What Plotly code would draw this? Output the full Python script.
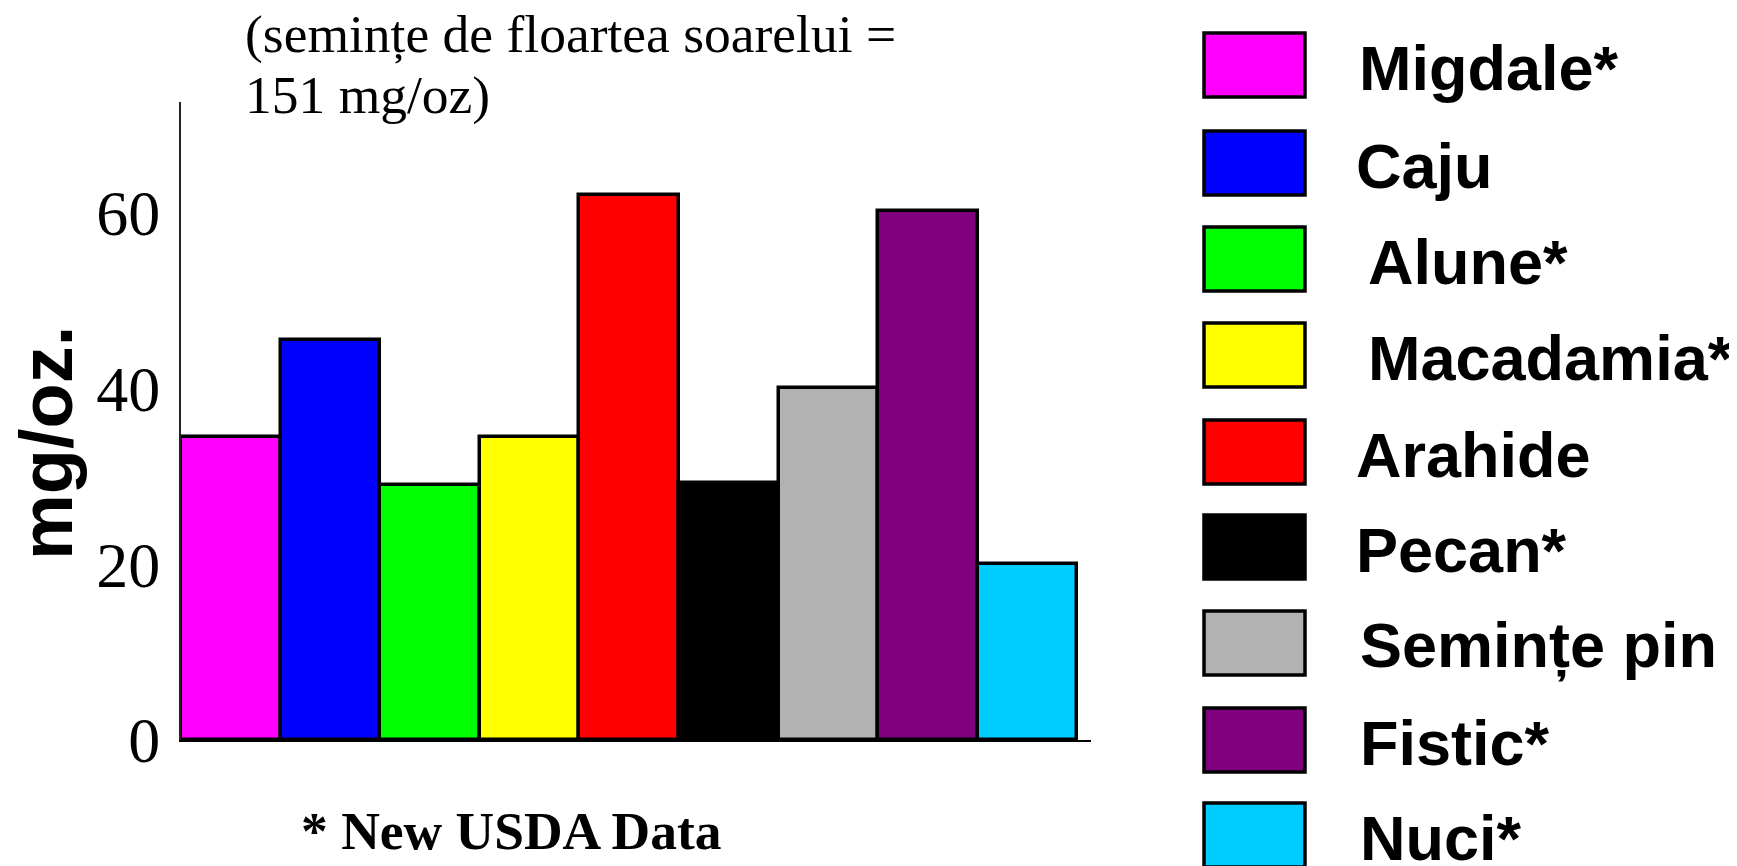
import plotly.graph_objects as go

# ---- data ----
categories = ["Migdale*", "Caju", "Alune*", "Macadamia*", "Arahide",
              "Pecan*", "Semințe pin", "Fistic*", "Nuci*"]
values = [34.5, 45.5, 29.0, 34.5, 62.0, 29.2, 40.0, 60.2, 20.0]
colors = ["#FF00FF", "#0000FF", "#00FF00", "#FFFF00", "#FF0000",
          "#000000", "#B2B2B2", "#800080", "#00CCFF"]
y_ticks = [0, 20, 40, 60]
note_top = ["(semințe de floartea soarelui =", "151 mg/oz)"]
note_bottom = "* New USDA Data"
y_title = "mg/oz."

W, H = 1737, 866
OFF = 8  # page body margin
# plot area in pixels (page coordinates)
L, R, T, B = 181, 1091, 102, 740


def px(x):
    return (x - OFF) / W


def py(y):
    return 1 - (y - OFF) / H


fig = go.Figure()
fig.add_trace(go.Bar(
    x=categories, y=values, width=1.0,
    marker=dict(color=colors, line=dict(color="black", width=3.5)),
    showlegend=False, hoverinfo="x+y",
))

fig.update_layout(
    width=W, height=H,
    margin=dict(l=0, r=0, t=0, b=0, autoexpand=False),
    paper_bgcolor="white", plot_bgcolor="white",
    bargap=0,
    xaxis=dict(domain=[px(L), px(R)], range=[-0.5, 8.637],
               showticklabels=False, ticks="", showgrid=False, zeroline=False,
               showline=True, linecolor="black", linewidth=2, fixedrange=True),
    yaxis=dict(domain=[py(B), py(T)], range=[0, 72.6],
               tickvals=y_ticks, ticks="", showgrid=False, zeroline=False,
               showline=True, linecolor="#222222", linewidth=2,
               ticklabelstandoff=6,
               tickfont=dict(family="Liberation Serif", size=64, color="black")),
    font=dict(family="Liberation Serif", color="black"),
)

annotations = []
# y axis title
annotations.append(dict(
    text="<b>" + y_title + "</b>", x=px(46), y=py(443), xref="paper", yref="paper",
    showarrow=False, textangle=-90, xanchor="center", yanchor="middle",
    font=dict(family="Liberation Sans", size=74, color="black"),
))
# top note, two lines
for line, yc in zip(note_top, [34, 95]):
    annotations.append(dict(
        text=line, x=px(243), y=py(yc), xref="paper", yref="paper",
        showarrow=False, xanchor="left", yanchor="middle",
        font=dict(family="Liberation Serif", size=53.5, color="black"),
    ))
# bottom note
annotations.append(dict(
    text="<b>" + note_bottom + "</b>", x=px(512), y=py(831),
    xref="paper", yref="paper", showarrow=False,
    xanchor="center", yanchor="middle",
    font=dict(family="Liberation Serif", size=53.5, color="black"),
))

# custom legend
box_x0, box_x1 = 1204, 1305
box_tops = [33, 131, 227, 323, 420, 515, 611, 708, 803]
box_h = 64
label_x = [1357, 1354, 1366, 1366, 1354, 1354, 1358, 1358, 1358]
shapes = []
for cat, col, top, lx in zip(categories, colors, box_tops, label_x):
    shapes.append(dict(
        type="rect", xref="paper", yref="paper",
        x0=px(box_x0), x1=px(box_x1), y0=py(top + box_h), y1=py(top),
        fillcolor=col, line=dict(color="black", width=3.5),
    ))
    annotations.append(dict(
        text="<b>" + cat + "</b>", x=px(lx), y=py(top + box_h / 2 + 3),
        xref="paper", yref="paper", showarrow=False,
        xanchor="left", yanchor="middle",
        font=dict(family="Liberation Sans", size=63, color="black"),
    ))

fig.update_layout(annotations=annotations, shapes=shapes)

fig.write_html("out.html")
